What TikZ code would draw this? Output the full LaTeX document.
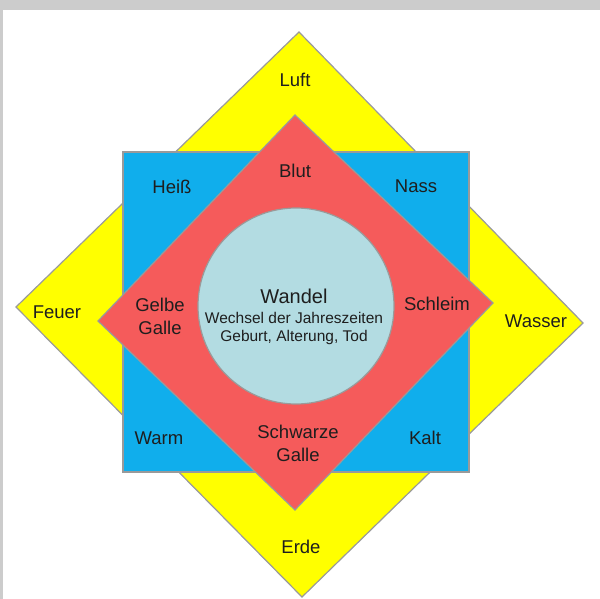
\documentclass[tikz,border=0pt]{standalone}
\usepackage{fontspec}
\setmainfont{Liberation Sans}
\definecolor{frame}{HTML}{CCCCCC}
\definecolor{edge}{HTML}{9A9A9A}
\definecolor{yel}{HTML}{FFFF00}
\definecolor{blu}{HTML}{10AEEC}
\definecolor{rd}{HTML}{F55B5B}
\definecolor{circ}{HTML}{B3DCE2}
\definecolor{txt}{HTML}{1E1E1E}
\begin{document}
\begin{tikzpicture}[x=1pt,y=-1pt,
  outl/.style={draw=edge,line width=1.2pt,line join=miter},
  big/.style={text=txt,font=\fontsize{18.5}{23}\selectfont,align=center,inner sep=0pt},
  small/.style={text=txt,font=\fontsize{15.5}{19}\selectfont,align=center,inner sep=0pt}]
\useasboundingbox (0,0) rectangle (600,599);
\fill[frame] (0,0) rectangle (600,599);
\fill[white] (3,10) rectangle (600,599);
% shapes
\draw[outl,fill=yel] (299,32) -- (583,323) -- (302,597) -- (16,307) -- cycle;
\draw[outl,fill=blu] (123,152) rectangle (469,472);
\draw[outl,fill=rd] (295,115) -- (493,303) -- (295,510) -- (98,321) -- cycle;
\draw[outl,fill=circ] (296,306) circle[radius=98];
% labels
\node[big] (luft) at (295,80) {Luft};
\node[big] (erde) at (301,547) {Erde};
\node[big] (feuer) at (57,312) {Feuer};
\node[big] (wasser) at (536,321) {Wasser};
\node[big] (heiss) at (172,187) {Heiß};
\node[big] (nass) at (416,186) {Nass};
\node[big] (warm) at (159,438) {Warm};
\node[big] (kalt) at (425,438) {Kalt};
\node[big] (blut) at (295,171) {Blut};
\node[big] (schleim) at (437,304) {Schleim};
\node[big] (gelbe) at (160,316) {Gelbe\\Galle};
\node[big] (schwarze) at (298,443) {Schwarze\\Galle};
\node[big,font=\fontsize{20}{24}\selectfont] (wandel) at (294,296) {Wandel};
\node[small] (wechsel) at (294,318) {Wechsel der Jahreszeiten};
\node[small] (geburt) at (294,337) {Geburt, Alterung, Tod};
\end{tikzpicture}
\end{document}
